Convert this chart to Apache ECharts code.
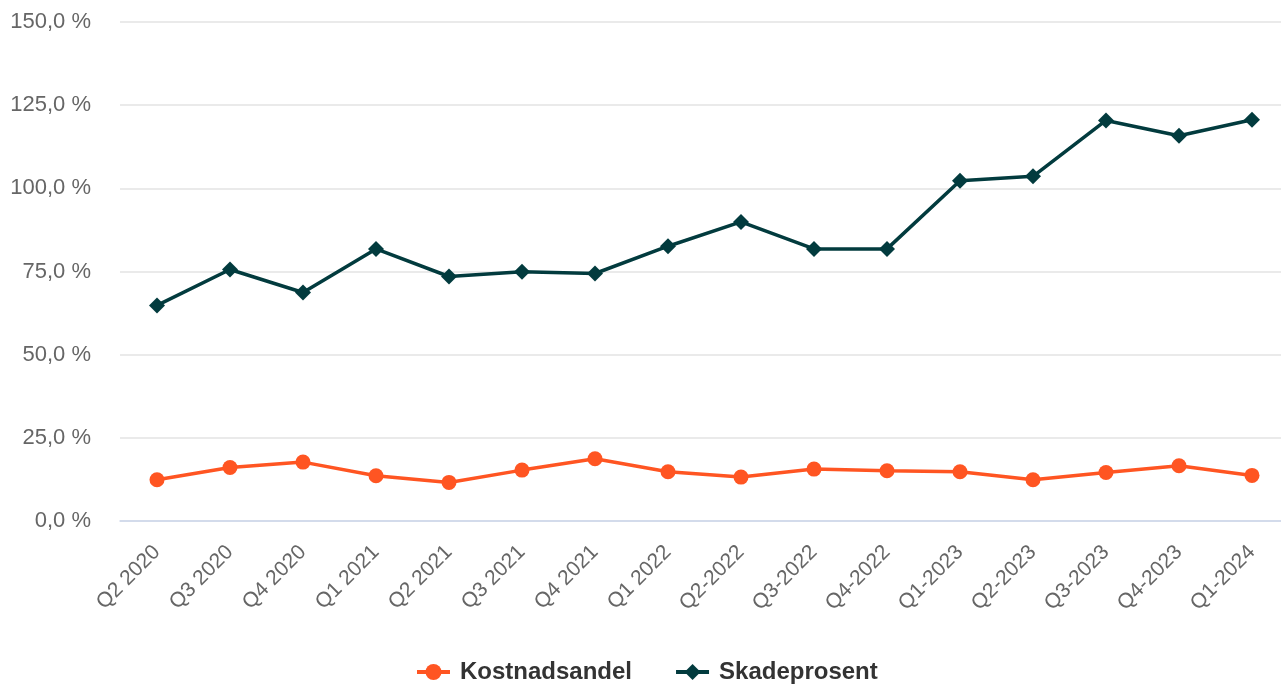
<!DOCTYPE html>
<html>
<head>
<meta charset="utf-8">
<script src="https://cdn.jsdelivr.net/npm/echarts@6/dist/echarts.min.js"></script>
<style>
html,body{margin:0;padding:0;background:#fff;}
#chart{width:1281px;height:684px;}
</style>
</head>
<body>
<div id="chart"></div>
<script>
const categories = ['Q2 2020','Q3 2020','Q4 2020','Q1 2021','Q2 2021','Q3 2021','Q4 2021','Q1 2022','Q2-2022','Q3-2022','Q4-2022','Q1-2023','Q2-2023','Q3-2023','Q4-2023','Q1-2024'];
const kostnadsandel = [12.4, 16.1, 17.7, 13.6, 11.6, 15.3, 18.7, 14.8, 13.2, 15.6, 15.1, 14.8, 12.4, 14.6, 16.6, 13.7];
const skadeprosent = [64.8, 75.6, 68.7, 81.8, 73.5, 74.9, 74.4, 82.6, 89.9, 81.8, 81.8, 102.3, 103.6, 120.4, 115.8, 120.6];
const yTicks = [0, 25, 50, 75, 100, 125, 150];

const FONT = "'Liberation Sans', Arial, sans-serif";
const chart = echarts.init(document.getElementById('chart'), null, {renderer: 'canvas'});

const yMin = yTicks[0], yMax = yTicks[yTicks.length - 1], yStep = yTicks[1] - yTicks[0];
const fmt = v => v.toFixed(1).replace('.', ',') + ' %';

chart.setOption({
  animation: false,
  backgroundColor: '#ffffff',
  textStyle: {fontFamily: FONT},
  grid: [
    {left: 120, right: 0, top: 22, bottom: 163, containLabel: false},
    {left: 157, right: 29, top: 22, bottom: 163, containLabel: false}
  ],
  legend: {
    data: ['Kostnadsandel', 'Skadeprosent'],
    top: 655,
    left: 410,
    itemWidth: 33,
    itemHeight: 20,
    itemGap: 42,
    lineStyle: {width: 4},
    textStyle: {fontFamily: FONT, fontSize: 24, fontWeight: 'bold', color: '#333333', padding: [0, 0, 0, 5]}
  },
  xAxis: [
    {
      type: 'category', gridIndex: 0, data: [''], boundaryGap: true,
      axisLine: {show: true, lineStyle: {color: '#ccd6eb', width: 1.5}},
      axisTick: {show: false}, axisLabel: {show: false}, splitLine: {show: false}
    },
    {
      type: 'category', gridIndex: 1, data: categories, boundaryGap: false,
      axisLine: {show: false}, axisTick: {show: false}, splitLine: {show: false},
      axisLabel: {rotate: 45, margin: 28, fontSize: 21, color: '#666666', fontFamily: FONT, interval: 0}
    }
  ],
  yAxis: [
    {
      type: 'value', gridIndex: 0, min: yMin, max: yMax, interval: yStep,
      axisLine: {show: false}, axisTick: {show: false},
      splitLine: {show: true, lineStyle: {color: '#e3e3e3', width: 1.5}},
      axisLabel: {margin: 29, fontSize: 22, color: '#666666', fontFamily: FONT, formatter: fmt}
    },
    {
      type: 'value', gridIndex: 1, min: yMin, max: yMax, interval: yStep,
      axisLine: {show: false}, axisTick: {show: false},
      splitLine: {show: false}, axisLabel: {show: false}
    }
  ],
  series: [
    {
      name: 'Kostnadsandel', type: 'line', xAxisIndex: 1, yAxisIndex: 1,
      data: kostnadsandel, symbol: 'circle', symbolSize: 15,
      itemStyle: {color: '#ff5522'},
      lineStyle: {color: '#ff5522', width: 3.5}
    },
    {
      name: 'Skadeprosent', type: 'line', xAxisIndex: 1, yAxisIndex: 1,
      data: skadeprosent, symbol: 'diamond', symbolSize: 16,
      itemStyle: {color: '#023b3e'},
      lineStyle: {color: '#023b3e', width: 3.5}
    }
  ]
});
</script>
</body>
</html>
